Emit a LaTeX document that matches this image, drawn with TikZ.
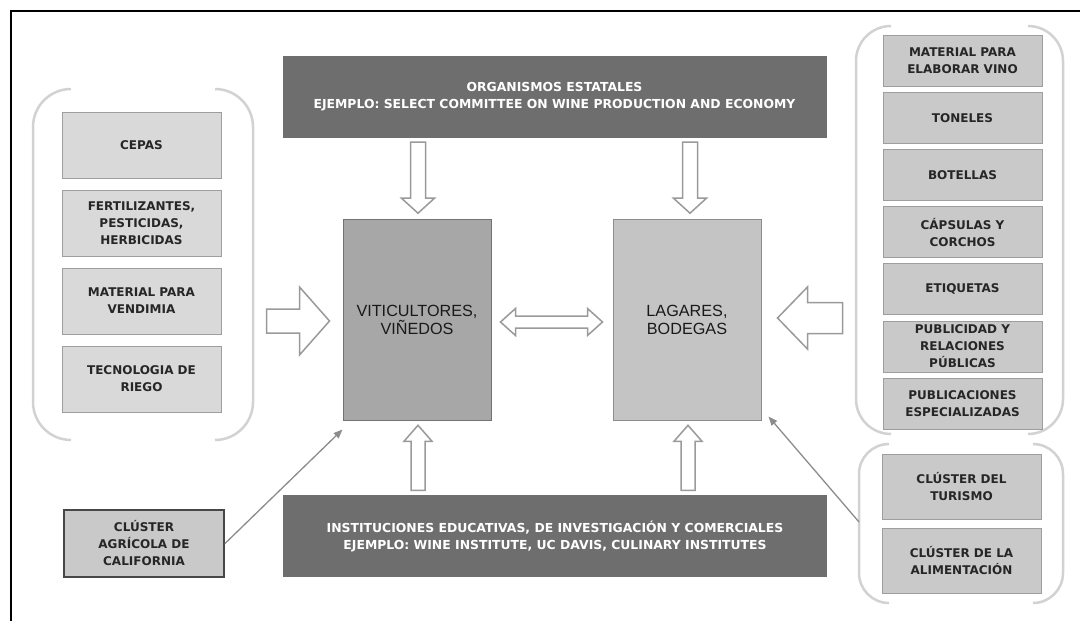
\documentclass[tikz,border=0pt]{standalone}
\usepackage{fontspec}
\setmainfont{DejaVu Sans}
\newfontfamily\ctrfont{Liberation Sans}
\usetikzlibrary{arrows.meta,calc}
\definecolor{darkfill}{HTML}{6E6E6E}
\definecolor{sidefill}{HTML}{D9D9D9}
\definecolor{rightfill}{HTML}{C9C9C9}
\definecolor{boxline}{HTML}{9E9E9E}
\definecolor{labeltext}{HTML}{262626}
\definecolor{vitfill}{HTML}{A7A7A7}
\definecolor{lagfill}{HTML}{C4C4C4}
\definecolor{bracketcol}{HTML}{D2D2D2}
\definecolor{arrowline}{HTML}{9A9A9A}
\definecolor{thinarrowcol}{HTML}{8C8C8C}
\newcommand\bracketpair[5]{%
  \draw[bracket,rounded corners=#5] ({#1+#5},#2) -- (#1,#2) -- (#1,#4) -- ({#1+#5},#4);
  \draw[bracket,rounded corners=#5] ({#3-#5},#2) -- (#3,#2) -- (#3,#4) -- ({#3-#5},#4);}
\tikzset{
  bracket/.style={draw=bracketcol, line width=2.5pt},
  labelfont/.style={font=\fontsize{12}{17}\selectfont\bfseries, text=labeltext},
  sidebox/.style={draw=boxline, fill=sidefill, line width=1pt, minimum width=159pt,
    minimum height=66pt, inner sep=0pt, align=center, labelfont},
  rightbox/.style={sidebox, fill=rightfill, minimum height=51pt},
  clusterbox/.style={sidebox, fill=rightfill, minimum height=65pt},
  agribox/.style={sidebox, fill=rightfill, draw=black!72, line width=2pt, minimum width=160pt, minimum height=67pt},
  darkbox/.style={fill=darkfill, draw=darkfill, minimum width=543pt, minimum height=81pt,
    inner sep=0pt, align=center, text=white, font=\fontsize{12.4}{17}\selectfont\bfseries},
  centerbox/.style={minimum width=148pt, minimum height=201pt, inner sep=0pt, align=center,
    line width=1pt, text=black!90, font=\ctrfont\fontsize{16.2}{18}\selectfont},
  barrow/.style={draw=arrowline, fill=white, line width=1.5pt, line join=miter},
  thinarr/.style={draw=thinarrowcol, line width=1.3pt, -{Triangle[length=9pt,width=7pt]}},
  pics/blockarrow/.style n args={4}{code={
    \draw[barrow] (0,-#2) -- ({#1-#4},-#2) -- ({#1-#4},-#3) -- (#1,0) -- ({#1-#4},#3)
      -- ({#1-#4},#2) -- (0,#2) -- cycle;}},
  pics/dblarrow/.style n args={4}{code={
    \draw[barrow] (0,0) -- (#4,-#3) -- (#4,-#2) -- ({#1-#4},-#2) -- ({#1-#4},-#3) -- (#1,0)
      -- ({#1-#4},#3) -- ({#1-#4},#2) -- (#4,#2) -- (#4,#3) -- cycle;}},
}
\begin{document}
\begin{tikzpicture}[x=1pt,y=-1pt]
\useasboundingbox (0,0) rectangle (1080,621);
\fill[white] (0,0) rectangle (1080,621);
% outer frame (top and left visible)
\draw[line width=2.5pt] (10.8,630) -- (10.8,10.8) -- (1090,10.8);

% bracket groups
\bracketpair{33}{89}{253}{440}{38}
\bracketpair{856}{26}{1063}{434}{35}
\bracketpair{859}{444}{1063}{603}{30}

% left boxes
\node[sidebox] (cepas) at (141.5,145) {CEPAS};
\node[sidebox] (fert)  at (141.5,223) {FERTILIZANTES,\\PESTICIDAS,\\HERBICIDAS};
\node[sidebox] (matv)  at (141.5,301) {MATERIAL PARA\\VENDIMIA};
\node[sidebox] (tec)   at (141.5,379) {TECNOLOGIA DE\\RIEGO};
\node[agribox] (agri)  at (144,543.5) {CLÚSTER\\AGRÍCOLA DE\\CALIFORNIA};

% right boxes
\node[rightbox] (mat2) at (962.5,60.5)  {MATERIAL PARA\\ELABORAR VINO};
\node[rightbox] (ton)  at (962.5,117.7) {TONELES};
\node[rightbox] (bot)  at (962.5,174.9) {BOTELLAS};
\node[rightbox] (cap)  at (962.5,232.1) {CÁPSULAS Y\\CORCHOS};
\node[rightbox] (eti)  at (962.5,289.3) {ETIQUETAS};
\node[rightbox] (pub)  at (962.5,346.5) {PUBLICIDAD Y\\RELACIONES\\PÚBLICAS};
\node[rightbox] (pubs) at (962.5,403.7) {PUBLICACIONES\\ESPECIALIZADAS};
\node[clusterbox] (tur) at (961.5,486.5) {CLÚSTER DEL\\TURISMO};
\node[clusterbox] (ali) at (961.5,560.5) {CLÚSTER DE LA\\ALIMENTACIÓN};
\coordinate (lowgrp) at (859,522);

% dark boxes
\node[darkbox] (top) at (554.5,96.5) {ORGANISMOS ESTATALES\\EJEMPLO: SELECT COMMITTEE ON WINE PRODUCTION AND ECONOMY};
\node[darkbox] (bot2) at (555,536) {INSTITUCIONES EDUCATIVAS, DE INVESTIGACIÓN Y COMERCIALES\\EJEMPLO: WINE INSTITUTE, UC DAVIS, CULINARY INSTITUTES};

% centre boxes
\node[centerbox, fill=vitfill, draw=black!55] (vit) at (417,319.5) {VITICULTORES,\\VIÑEDOS};
\node[centerbox, fill=lagfill, draw=black!45] (lag) at (687,319.5) {LAGARES,\\BODEGAS};

% block arrows
\pic[rotate=-90] at ($(vit.north |- top.south)+(1,5)$) {blockarrow={71}{7.5}{16.5}{15}};
\pic[rotate=-90] at ($(lag.north |- top.south)+(3,5)$) {blockarrow={71}{7.5}{16.5}{15}};
\pic[rotate=90] at ($(vit.south |- bot2.north)+(1,-5)$) {blockarrow={65}{7}{14}{16}};
\pic[rotate=90] at ($(lag.south |- bot2.north)+(1,-5)$) {blockarrow={65}{7}{14}{16}};
\pic at ($(vit.west)+(-76,1.5)$) {blockarrow={63}{12}{34}{30}};
\pic[rotate=180] at ($(lag.east)+(81,-1.5)$) {blockarrow={65}{15.5}{31}{30}};
\pic at ($(vit.east)+(9,2.5)$) {dblarrow={102}{6}{13.5}{15}};

% thin arrows
\draw[thinarr] (agri.east) -- ($(vit.south west)+(0,9)$);
\draw[thinarr] (lowgrp) -- ($(lag.south east)+(7,-4)$);
\end{tikzpicture}
\end{document}
